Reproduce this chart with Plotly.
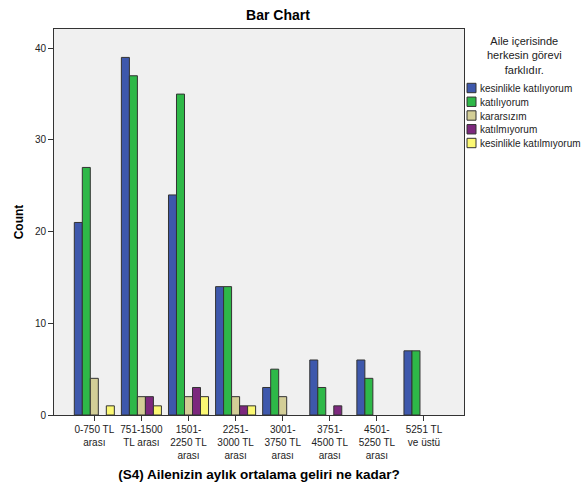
import plotly.graph_objects as go

categories = ["0-750 TL<br>arası", "751-1500<br>TL arası", "1501-<br>2250 TL<br>arası",
              "2251-<br>3000 TL<br>arası", "3001-<br>3750 TL<br>arası", "3751-<br>4500 TL<br>arası",
              "4501-<br>5250 TL<br>arası", "5251 TL<br>ve üstü"]

kesinlikle_katiliyorum = [21, 39, 24, 14, 3, 6, 6, 7]
katiliyorum = [27, 37, 35, 14, 5, 3, 4, 7]
kararsizim = [4, 2, 2, 2, 2, None, None, None]
katilmiyorum = [None, 2, 3, 1, None, 1, None, None]
kesinlikle_katilmiyorum = [1, 1, 2, 1, None, None, None, None]

series_names = ["kesinlikle katılıyorum", "katılıyorum", "kararsızım", "katılmıyorum", "kesinlikle katılmıyorum"]
series_values = [kesinlikle_katiliyorum, katiliyorum, kararsizim, katilmiyorum, kesinlikle_katilmiyorum]
colors = ["#3E58AC", "#2EB848", "#D3CE97", "#7C287D", "#FBF873"]
legend_title = "Aile içerisinde<br>herkesin görevi<br>farklıdır."

FONT = "Liberation Sans, Arial, sans-serif"
W, H = 581, 486
L, R, T, B = 54, 464, 29, 415  # plot area in pixels


def px(x):
    return (x - L) / (R - L)


def py(y):
    return (B - y) / (B - T)


fig = go.Figure()
for name, vals, col in zip(series_names, series_values, colors):
    fig.add_trace(go.Bar(
        x=list(range(len(categories))), y=vals, name=name, showlegend=False,
        marker=dict(color=col, line=dict(color="#333333", width=1)),
    ))

# Legend drawn as swatches + labels, to the right of the plot
shapes = []
annotations = []
annotations.append(dict(text=legend_title, xref="paper", yref="paper", x=px(524), y=py(55.5),
                        xanchor="center", yanchor="middle", showarrow=False, align="center",
                        font=dict(family=FONT, size=11, color="#222222")))
for i, (name, col) in enumerate(zip(series_names, colors)):
    cy = 88 + 13.75 * i
    shapes.append(dict(type="rect", xref="paper", yref="paper",
                       x0=px(467), x1=px(476), y0=py(cy + 4.7), y1=py(cy - 4.7),
                       fillcolor=col, line=dict(color="#333333", width=1), layer="above"))
    annotations.append(dict(text=name, xref="paper", yref="paper", x=px(477.5), y=py(cy + 0.5),
                            xanchor="left", yanchor="middle", showarrow=False,
                            font=dict(family=FONT, size=10, color="#222222")))

fig.update_layout(
    width=W, height=H,
    margin=dict(l=L, r=W - R, t=T, b=H - B, autoexpand=False),
    barmode="group", bargap=0.15, bargroupgap=0,
    plot_bgcolor="#F0F0F0", paper_bgcolor="white",
    font=dict(family=FONT, size=10, color="black"),
    showlegend=False,
    title=dict(text="<b>Bar Chart</b>", x=278 / W, xanchor="center", y=1 - 15 / H, yanchor="middle",
               font=dict(family=FONT, size=14, color="black")),
    shapes=shapes,
    annotations=annotations,
    xaxis=dict(
        range=[-0.856, 7.85], tickmode="array", tickvals=list(range(len(categories))),
        ticktext=categories, tickangle=0, ticks="outside", ticklen=5, tickcolor="#333333",
        showline=True, linecolor="#333333", linewidth=1, mirror=True, showgrid=False,
        zeroline=False,
        title=dict(text="<b>(S4) Ailenizin aylık ortalama geliri ne kadar?</b>",
                   font=dict(family=FONT, size=13.5), standoff=9),
        tickfont=dict(family=FONT, size=10, color="#222222"),
    ),
    yaxis=dict(
        range=[0, 42.1], tickvals=[0, 10, 20, 30, 40], ticks="outside", ticklen=5,
        tickcolor="#333333", showline=True, linecolor="#333333", linewidth=1, mirror=True,
        showgrid=False, zeroline=False,
        title=dict(text="<b>Count</b>", font=dict(family=FONT, size=12), standoff=8),
        tickfont=dict(family=FONT, size=10, color="#222222"),
    ),
)

fig.write_html("out.html", config={"displayModeBar": False},
               post_script="document.body.style.margin='0';document.body.style.padding='0';")
